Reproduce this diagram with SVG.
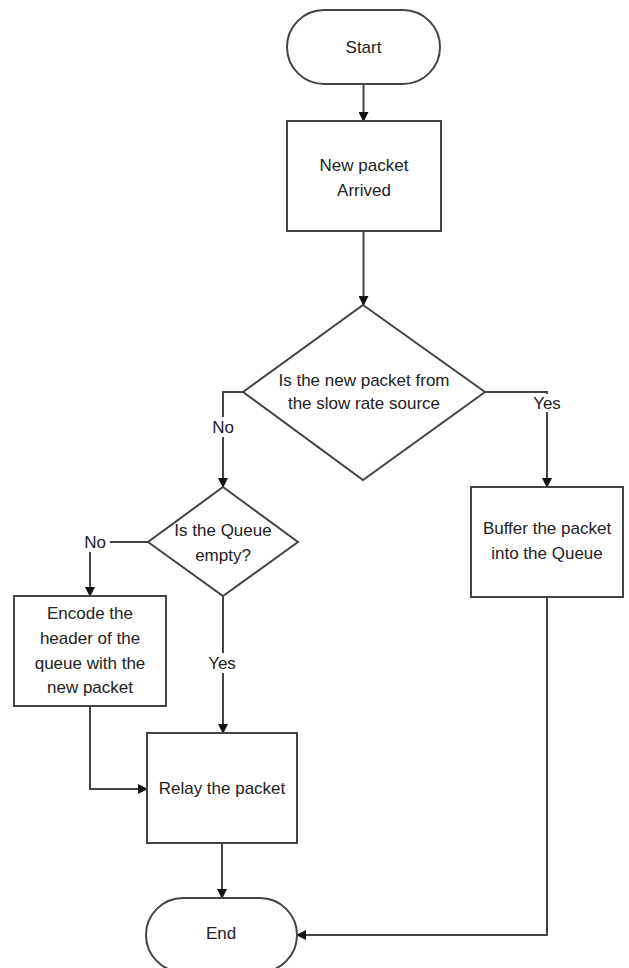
<svg xmlns="http://www.w3.org/2000/svg" width="629" height="968" viewBox="0 0 629 968">
<defs>
<marker id="ah" markerWidth="10" markerHeight="10" refX="9" refY="5" orient="auto" markerUnits="userSpaceOnUse">
<path d="M0,0 L10,5 L0,10 Z" fill="#111"/>
</marker>
<style>
.shape{fill:#fff;stroke:#444;stroke-width:2}
.conn{fill:none;stroke:#444;stroke-width:2}
text{font-family:"Liberation Sans",Arial,sans-serif;font-size:17px;fill:#222;text-anchor:middle;dominant-baseline:central}
</style>
</defs>
<rect width="629" height="968" fill="#fff"/>
<g id="connectors">
<path class="conn" d="M363.5,84 V121" marker-end="url(#ah)"/>
<path class="conn" d="M363.5,231 V305" marker-end="url(#ah)"/>
<path class="conn" d="M243,392 H223 V487" marker-end="url(#ah)"/>
<path class="conn" d="M485,392 H547 V487" marker-end="url(#ah)"/>
<path class="conn" d="M148,542 H90 V596" marker-end="url(#ah)"/>
<path class="conn" d="M223,596 V733" marker-end="url(#ah)"/>
<path class="conn" d="M90,706 V789 H147" marker-end="url(#ah)"/>
<path class="conn" d="M222,843 V898" marker-end="url(#ah)"/>
<path class="conn" d="M547,597 V935 H297" marker-end="url(#ah)"/>
<rect x="208" y="417" width="30" height="20" fill="#fff"/>
<text x="223" y="427">No</text>
<rect x="532" y="394" width="30" height="18" fill="#fff"/>
<text x="547" y="403">Yes</text>
<rect x="80" y="532" width="30" height="20" fill="#fff"/>
<text x="95" y="542">No</text>
<rect x="207" y="653" width="32" height="20" fill="#fff"/>
<text x="222" y="663">Yes</text>
</g>
<g id="start">
<rect class="shape" x="287" y="10" width="153" height="74" rx="37" ry="37"/>
<text x="363.5" y="47">Start</text>
</g>
<g id="new-packet">
<rect class="shape" x="287" y="121" width="154" height="110"/>
<text x="364" y="165">New packet</text>
<text x="364" y="190">Arrived</text>
</g>
<g id="decision-source">
<polygon class="shape" points="363,305 485,392 363,480 243,392"/>
<text x="364" y="380">Is the new packet from</text>
<text x="364" y="403">the slow rate source</text>
</g>
<g id="decision-queue">
<polygon class="shape" points="223,487 298,542 223,596 148,542"/>
<text x="223" y="530">Is the Queue</text>
<text x="223" y="555">empty?</text>
</g>
<g id="buffer">
<rect class="shape" x="471" y="487" width="152" height="110"/>
<text x="547" y="528">Buffer the packet</text>
<text x="547" y="553">into the Queue</text>
</g>
<g id="encode">
<rect class="shape" x="14" y="596" width="152" height="110"/>
<text x="90" y="613">Encode the</text>
<text x="90" y="638">header of the</text>
<text x="90" y="663">queue with the</text>
<text x="90" y="687">new packet</text>
</g>
<g id="relay">
<rect class="shape" x="147" y="733" width="150" height="110"/>
<text x="222" y="788">Relay the packet</text>
</g>
<g id="end">
<rect class="shape" x="146" y="898" width="151" height="74" rx="37" ry="37"/>
<text x="221" y="933">End</text>
</g>
</svg>
